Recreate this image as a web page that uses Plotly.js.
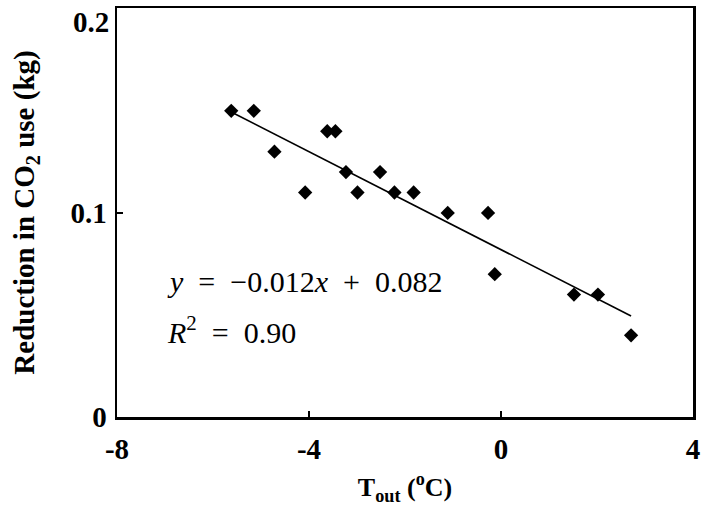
<!DOCTYPE html>
<html>
<head>
<meta charset="utf-8">
<script src="https://cdn.plot.ly/plotly-3.0.1.min.js"></script>
<style>html,body{margin:0;padding:0;background:#fff;}#chart{width:709px;height:518px;}</style>
</head>
<body>
<div id="chart"></div>
<script>
// Outdoor temperature (°C) and reduction in CO2 use (kg)
const tOut = [-5.62, -5.15, -4.72, -4.08, -3.62, -3.45, -3.23, -2.99, -2.52, -2.22, -1.82, -1.11, -0.27, -0.13, 1.52, 2.02, 2.71];
const co2Reduction = [0.15, 0.15, 0.13, 0.11, 0.14, 0.14, 0.12, 0.11, 0.12, 0.11, 0.11, 0.10, 0.10, 0.07, 0.06, 0.06, 0.04];
// Fitted line, as printed on the chart
const trendSlope = -0.012;
const trendIntercept = 0.082;
const xTickVals = [-8, -4, 0, 4];
const yTickVals = [0, 0.1, 0.2];
const yTickText = ['0', '0.1', '0.2'];

const xMin = Math.min(...tOut), xMax = Math.max(...tOut);
const trendX = [xMin, xMax];
const trendY = trendX.map(v => trendSlope * v + trendIntercept);

const serif = 'Liberation Serif';

const data = [
  {x: trendX, y: trendY, mode: 'lines', type: 'scatter',
   line: {color: '#000', width: 1.6}, hoverinfo: 'skip', showlegend: false},
  {x: tOut, y: co2Reduction, mode: 'markers', type: 'scatter',
   marker: {symbol: 'diamond', size: 11, color: '#000'}, showlegend: false}
];

const yTickFont = {family: serif, size: 29, color: '#000', weight: 'bold'};

const layout = {
  width: 709, height: 518,
  margin: {l: 116.5, r: 16, t: 8, b: 101.3},
  paper_bgcolor: '#fff', plot_bgcolor: '#fff',
  font: {family: serif, color: '#000'},
  xaxis: {
    range: [-8, 4.0001], tickvals: xTickVals, ticktext: xTickVals.map(String),
    showgrid: false, zeroline: false,
    showline: true, mirror: true, linecolor: '#000', linewidth: 2.5,
    ticks: 'inside', ticklen: 6, tickwidth: 2, tickcolor: '#000',
    ticklabelstandoff: 5,
    tickfont: {family: serif, size: 29, color: '#000', weight: 'bold'},
    title: {text: '<b>T<sub>out</sub> (<sup>o</sup>C)</b>', standoff: 14,
            font: {family: serif, size: 26, color: '#000'}}
  },
  yaxis: {
    range: [0, 0.2004], tickvals: yTickVals.slice(0, 2), ticktext: yTickText.slice(0, 2),
    showgrid: false, zeroline: false,
    showline: true, mirror: true, linecolor: '#000', linewidth: 2.5,
    ticks: 'inside', ticklen: 6, tickwidth: 2, tickcolor: '#000',
    ticklabelstandoff: 2,
    tickfont: yTickFont,
    title: {text: '<b>Reduction in CO<sub>2</sub> use (kg)</b>', standoff: 28,
            font: {family: serif, size: 29, color: '#000'}}
  },
  annotations: [
    {xref: 'paper', yref: 'y', x: 0, y: yTickVals[2], xanchor: 'right', yanchor: 'middle',
     xshift: -6, yshift: -13, showarrow: false, text: yTickText[2], font: yTickFont},
    {xref: 'paper', yref: 'paper', x: 0.084, y: 0.331, xanchor: 'left', yanchor: 'middle',
     showarrow: false,
     text: '<span style="font-family:Liberation Serif"><i>y</i>  =  \u22120.012<i>x</i>  +  0.082</span>',
     font: {family: serif, size: 30, color: '#000'}},
    {xref: 'paper', yref: 'paper', x: 0.084, y: 0.213, xanchor: 'left', yanchor: 'middle',
     showarrow: false, text: '<i>R</i><sup>2</sup>  =  0.90',
     font: {family: 'Liberation Serif', size: 30, color: '#000', weight: 500}}
  ]
};

Plotly.newPlot('chart', data, layout, {displayModeBar: false, staticPlot: true});
</script>
</body>
</html>
